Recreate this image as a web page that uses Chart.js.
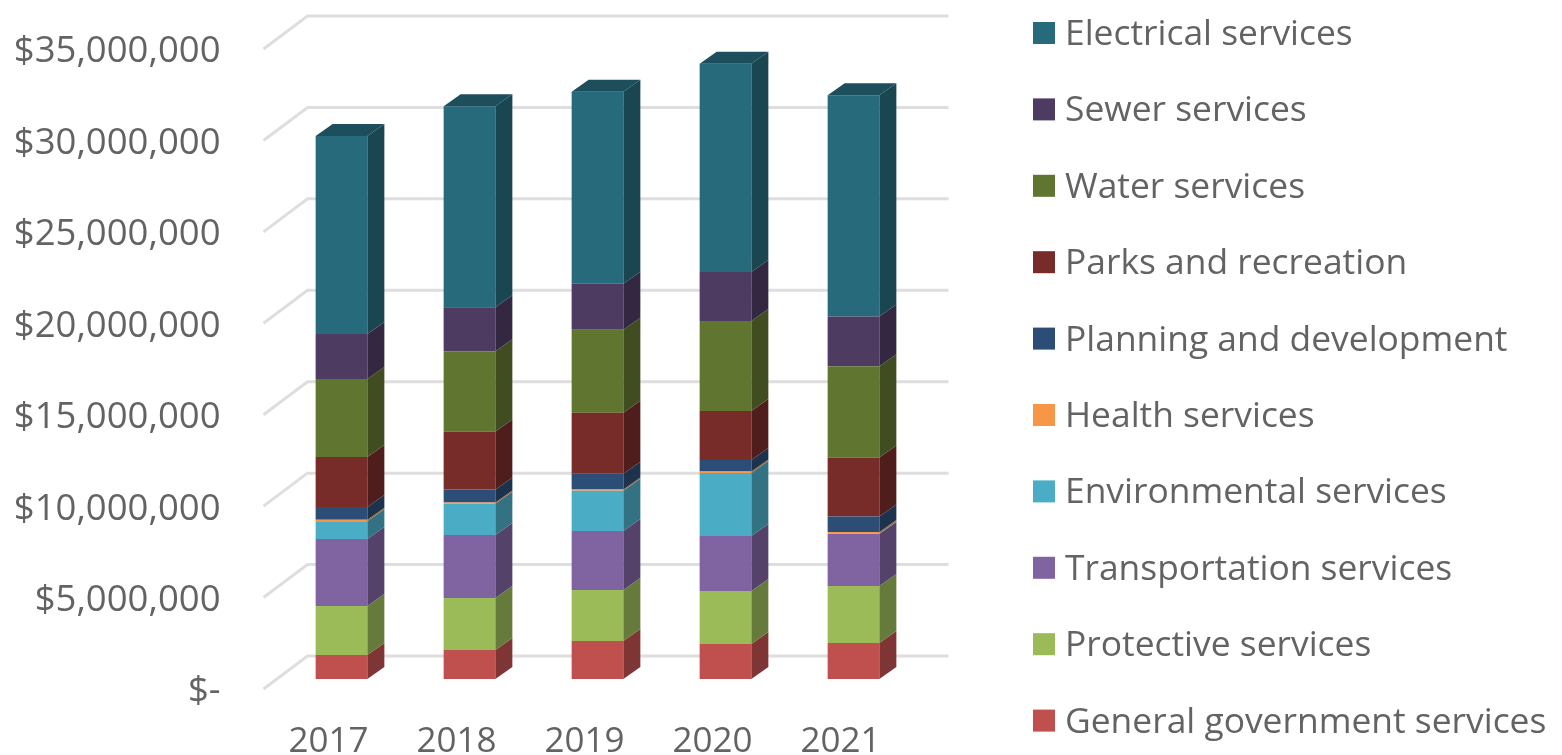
<!DOCTYPE html>
<html>
<head>
<meta charset="utf-8">
<title>Expenses by service</title>
<script src="https://cdn.jsdelivr.net/npm/chart.js@4/dist/chart.umd.min.js"></script>
<style>
    html, body { margin: 0; background: #fff; }
    canvas { display: block; filter: blur(0.6px); }
</style>
</head>
<body>
<canvas id="myChart" width="1562" height="755"></canvas>
<script>
const years = ['2017', '2018', '2019', '2020', '2021'];

const generalGovernment = [1310000, 1590000, 2080000, 1910000, 1970000];
const protective = [2680000, 2840000, 2790000, 2900000, 3120000];
const transportation = [3660000, 3450000, 3230000, 3010000, 2840000];
const environmental = [980000, 1700000, 2190000, 3450000, 30000];
const health = [80000, 70000, 80000, 80000, 80000];
const planning = [700000, 720000, 850000, 630000, 850000];
const parks = [2730000, 3170000, 3340000, 2680000, 3230000];
const water = [4270000, 4380000, 4540000, 4920000, 4980000];
const sewer = [2460000, 2410000, 2520000, 2680000, 2730000];
const electrical = [10830000, 10990000, 10500000, 11380000, 12090000];

const seriesNames = ['General government services', 'Protective services', 'Transportation services',
    'Environmental services', 'Health services', 'Planning and development', 'Parks and recreation',
    'Water services', 'Sewer services', 'Electrical services'];
const seriesValues = [generalGovernment, protective, transportation, environmental, health,
    planning, parks, water, sewer, electrical];
const seriesColors = ['#C0504D', '#9BBB59', '#8064A2', '#4BACC6', '#F79646',
    '#2C4D75', '#772C2A', '#5F7530', '#4D3B62', '#276A7C'];

const textColor = '#636363';
const gridColor = '#DEDEDE';
const depthX = 17;
const depthY = 12;

function darken(hex, k) {
    const n = parseInt(hex.slice(1), 16);
    const r = Math.round((n >> 16 & 255) * k);
    const g = Math.round((n >> 8 & 255) * k);
    const b = Math.round((n & 255) * k);
    return `rgb(${r}, ${g}, ${b})`;
}

function poly(ctx, pts, color) {
    ctx.fillStyle = color;
    ctx.beginPath();
    pts.forEach((p, i) => i ? ctx.lineTo(p[0], p[1]) : ctx.moveTo(p[0], p[1]));
    ctx.closePath();
    ctx.fill();
}

// back wall lines, same ticks as the y scale
const wallGrid = {
    id: 'wallGrid',
    beforeDatasetsDraw(chart) {
        const { ctx, chartArea, scales } = chart;
        ctx.save();
        ctx.strokeStyle = gridColor;
        ctx.lineWidth = 3;
        scales.y.ticks.forEach(t => {
            const y = scales.y.getPixelForValue(t.value);
            ctx.beginPath();
            ctx.moveTo(chartArea.left - 14, y + 10);
            ctx.lineTo(chartArea.left + 30, y - 23);
            ctx.lineTo(chartArea.right + 31, y - 23);
            ctx.stroke();
        });
        ctx.restore();
    }
};

// side and top faces of the columns
const columnDepth = {
    id: 'columnDepth',
    afterDatasetsDraw(chart) {
        const { ctx } = chart;
        ctx.save();
        chart.data.datasets.forEach((ds, i) => {
            chart.getDatasetMeta(i).data.forEach(bar => {
                const left = bar.x - bar.width / 2;
                const right = bar.x + bar.width / 2;
                poly(ctx, [[right, bar.y], [right + depthX, bar.y - depthY],
                    [right + depthX, bar.base - depthY], [right, bar.base]], darken(ds.backgroundColor, 0.66));
                if (i === chart.data.datasets.length - 1) {
                    poly(ctx, [[left, bar.y], [left + depthX, bar.y - depthY],
                        [right + depthX, bar.y - depthY], [right, bar.y]], darken(ds.backgroundColor, 0.74));
                }
            });
        });
        ctx.restore();
    }
};

// legend runs taller than the built-in one allows, so it is drawn here
const sideLegend = {
    id: 'sideLegend',
    afterDraw(chart) {
        const { ctx } = chart;
        ctx.save();
        ctx.font = '35.4px "Open Sans"';
        ctx.textBaseline = 'middle';
        const items = chart.data.datasets.slice().reverse();
        items.forEach((ds, i) => {
            const y = 33 + i * 76.4;
            ctx.fillStyle = ds.backgroundColor;
            ctx.fillRect(1033, y - 11, 22, 22);
            ctx.fillStyle = textColor;
            ctx.fillText(ds.label, 1065, y + 2);
        });
        ctx.restore();
    }
};

const ctx = document.getElementById('myChart');
const myChart = new Chart(ctx, {
    type: 'bar',
    data: {
        labels: years,
        datasets: seriesNames.map((name, i) => ({
            label: name,
            data: seriesValues[i],
            backgroundColor: seriesColors[i],
            categoryPercentage: 1,
            barPercentage: 0.404
        }))
    },
    options: {
        responsive: false,
        animation: false,
        layout: { padding: { top: 39, right: 644.5 } },
        plugins: {
            legend: { display: false },
            tooltip: { enabled: false }
        },
        scales: {
            x: {
                stacked: true,
                grid: { display: false },
                border: { display: false },
                afterFit: s => { s.height = 76; s.paddingLeft = 0; s.paddingRight = 0; },
                ticks: { color: textColor, font: { family: 'Open Sans', size: 35 }, padding: 34, labelOffset: -13 }
            },
            y: {
                stacked: true,
                min: 0,
                max: 35000000,
                grid: { display: false },
                border: { display: false },
                afterFit: s => { s.width = 277.5; s.paddingTop = 0; s.paddingBottom = 0; },
                ticks: {
                    stepSize: 5000000,
                    color: textColor,
                    font: { family: 'Open Sans', size: 36.5 },
                    padding: 49,
                    labelOffset: 13,
                    callback: v => v === 0 ? '$-' : '$' + v.toLocaleString('en-US')
                }
            }
        }
    },
    plugins: [wallGrid, columnDepth, sideLegend]
});
</script>
</body>
</html>
